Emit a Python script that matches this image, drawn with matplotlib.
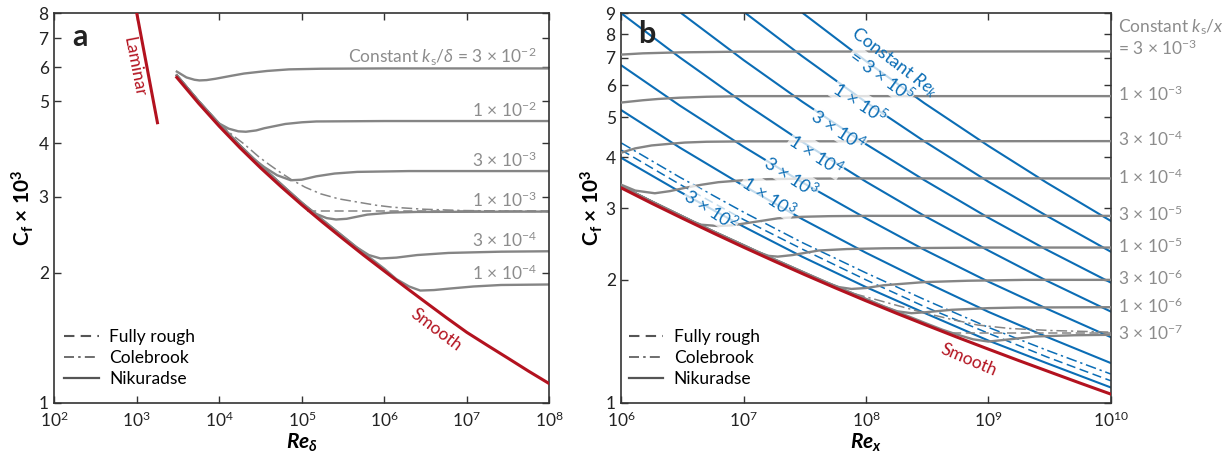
import matplotlib
matplotlib.use('Agg')
import matplotlib.pyplot as plt
import matplotlib.ticker as ticker
from matplotlib.lines import Line2D

plt.rcParams['font.family'] = ['Lato', 'DejaVu Sans']
plt.rcParams['mathtext.fontset'] = 'custom'
plt.rcParams['mathtext.rm'] = 'Lato'
plt.rcParams['mathtext.it'] = 'Lato:italic'
plt.rcParams['mathtext.bf'] = 'Lato:bold'
try:
    plt.rcParams['mathtext.bfit'] = 'Lato:bold:italic'
except KeyError:
    pass

# ---------------- panel a data (Re_delta, Cf x 1e3) ----------------
re_laminar = [1000, 1780]
cf_laminar = [8.0, 4.46]

re_smooth_a = [3055, 5623, 1e4, 1.778e4, 3.162e4, 5.623e4, 1e5, 1.778e5, 3.162e5, 5.623e5,
               1e6, 1.778e6, 3.162e6, 5.623e6, 1e7, 1.778e7, 3.162e7, 5.623e7, 1e8]
cf_smooth_a = [5.68, 4.945, 4.375, 3.902, 3.505, 3.168, 2.876, 2.623, 2.399, 2.198,
               2.020, 1.857, 1.710, 1.576, 1.456, 1.358, 1.268, 1.183, 1.107]

re_a_3e2 = [3055, 4000, 5000, 5740, 7000, 9000, 1.4e4, 2e4, 3.8e4, 7e4, 1.7e5, 1e6, 1e8]
cf_a_3e2 = [5.86, 5.68, 5.61, 5.59, 5.60, 5.64, 5.73, 5.80, 5.88, 5.93, 5.95, 5.96, 5.96]
re_a_1e2 = [3055, 5623, 8000, 1e4, 1.3e4, 1.7e4, 2.1e4, 2.8e4, 3.5e4, 6.3e4, 1e5, 1.5e5, 1e6, 1e8]
cf_a_1e2 = [5.74, 5.00, 4.62, 4.44, 4.32, 4.26, 4.25, 4.28, 4.33, 4.43, 4.47, 4.49, 4.50, 4.50]
re_a_3e3 = [3055, 5623, 1e4, 1.778e4, 2.5e4, 3.5e4, 5e4, 7.35e4, 1e5, 1.5e5, 2.5e5, 4.7e5, 2e6, 1e8]
cf_a_3e3 = [5.74, 5.00, 4.43, 3.95, 3.70, 3.52, 3.37, 3.28, 3.29, 3.35, 3.40, 3.43, 3.445, 3.445]
re_a_1e3 = [3055, 5623, 1e4, 1.778e4, 3.162e4, 5.623e4, 8e4, 1.1e5, 1.5e5, 2e5, 2.6e5, 3.5e5,
            6.2e5, 1.2e6, 2.5e6, 1e8]
cf_a_1e3 = [5.74, 5.00, 4.43, 3.95, 3.55, 3.21, 3.01, 2.86, 2.74, 2.68, 2.66, 2.67,
            2.73, 2.76, 2.77, 2.775]
re_a_3e4 = [3055, 5623, 1e4, 1.778e4, 3.162e4, 5.623e4, 1e5, 1.778e5, 3.162e5, 4.5e5, 6.5e5,
            9e5, 1.4e6, 2.5e6, 6e6, 2.6e7, 1e8]
cf_a_3e4 = [5.74, 5.00, 4.43, 3.95, 3.55, 3.21, 2.91, 2.655, 2.43, 2.30, 2.20,
            2.16, 2.17, 2.20, 2.225, 2.24, 2.245]
re_a_1e4 = [3055, 5623, 1e4, 1.778e4, 3.162e4, 5.623e4, 1e5, 1.778e5, 3.162e5, 5.623e5, 1e6,
            1.4e6, 2e6, 2.73e6, 4e6, 6.3e6, 1.2e7, 2.6e7, 1e8]
cf_a_1e4 = [5.74, 5.00, 4.43, 3.95, 3.55, 3.21, 2.91, 2.655, 2.43, 2.225, 2.045,
            1.935, 1.86, 1.82, 1.825, 1.84, 1.86, 1.875, 1.88]

re_cole_a = [1e4, 1.5e4, 2e4, 3e4, 4e4, 5.5e4, 7.7e4, 1.1e5, 1.7e5, 2.8e5, 4.7e5, 8e5,
             1.27e6, 3e6, 9.3e6, 1e8]
cf_cole_a = [4.44, 4.15, 3.98, 3.72, 3.57, 3.42, 3.28, 3.16, 3.05, 2.97, 2.92, 2.87,
             2.84, 2.81, 2.79, 2.775]
re_rough_a = [1.16e5, 1e8]
cf_rough_a = [2.78, 2.78]

labels_a = ['Constant $k_\\mathrm{s}/\\delta$ = 3 × 10$^{-2}$', '1 × 10$^{-2}$',
            '3 × 10$^{-3}$', '1 × 10$^{-3}$', '3 × 10$^{-4}$', '1 × 10$^{-4}$']
plateau_a = [5.96, 4.50, 3.445, 2.775, 2.245, 1.88]

# ---------------- panel b data (Re_x, Cf x 1e3) ----------------
re_smooth_b = [1e6, 1.778e6, 3.162e6, 5.623e6, 1e7, 1.778e7, 3.162e7, 5.623e7, 1e8,
               1.778e8, 3.162e8, 5.623e8, 1e9, 1.778e9, 3.162e9, 5.623e9, 1e10]
cf_smooth_b = [3.36, 3.079, 2.830, 2.606, 2.404, 2.223, 2.059, 1.911, 1.777,
               1.656, 1.546, 1.445, 1.353, 1.268, 1.190, 1.117, 1.050]

re_blue = [1e6, 3e6, 1e7, 3e7, 1e8, 3e8, 1e9, 3e9, 1e10]
cf_rek_3e2 = [3.98, 3.29, 2.70, 2.28, 1.92, 1.66, 1.42, 1.25, 1.09]
cf_rek_dash = [4.16, 3.43, 2.81, 2.38, 2.00, 1.72, 1.48, 1.295, 1.132]
cf_rek_dashdot = [4.33, 3.57, 2.93, 2.47, 2.08, 1.79, 1.53, 1.345, 1.176]
cf_rek_1e3 = [5.21, 4.22, 3.40, 2.82, 2.33, 1.98, 1.67, 1.45, 1.251]
cf_rek_3e3 = [6.71, 5.35, 4.24, 3.47, 2.83, 2.37, 1.98, 1.70, 1.448]
cf_rek_1e4 = [9.0, 7.02, 5.43, 4.36, 3.48, 2.87, 2.36, 1.99, 1.673]
re_rek_3e4 = [3.1e6, 1e7, 3e7, 1e8, 3e8, 1e9, 3e9, 1e10]
cf_rek_3e4 = [9.0, 6.91, 5.47, 4.30, 3.51, 2.84, 2.37, 1.97]
re_rek_1e5 = [1.04e7, 3e7, 1e8, 3e8, 1e9, 3e9, 1e10]
cf_rek_1e5 = [9.0, 7.07, 5.45, 4.37, 3.48, 2.87, 2.345]
re_rek_3e5 = [3.06e7, 1e8, 3e8, 1e9, 3e9, 1e10]
cf_rek_3e5 = [9.0, 6.87, 5.42, 4.26, 3.46, 2.79]

re_b_3e3 = [1e6, 1.5e6, 3e6, 1e7, 1e10]
cf_b_3e3 = [7.13, 7.18, 7.22, 7.25, 7.26]
re_b_1e3 = [1e6, 1.5e6, 2e6, 3e6, 5e6, 1e7, 1e10]
cf_b_1e3 = [5.44, 5.51, 5.55, 5.59, 5.62, 5.64, 5.64]
re_b_3e4 = [1e6, 1.3e6, 1.77e6, 2.5e6, 3.3e6, 5e6, 1.1e7, 1e10]
cf_b_3e4 = [4.10, 4.20, 4.27, 4.31, 4.34, 4.36, 4.37, 4.375]
re_b_1e4 = [1e6, 1.3e6, 1.88e6, 2.5e6, 3.3e6, 4.5e6, 6.2e6, 1e7, 1.58e7, 3e7, 1e8, 1e10]
cf_b_1e4 = [3.42, 3.31, 3.26, 3.30, 3.36, 3.42, 3.47, 3.51, 3.53, 3.54, 3.545, 3.545]
re_b_3e5 = [1e6, 1.778e6, 2.5e6, 3.3e6, 4.5e6, 6.2e6, 8e6, 1.02e7, 1.4e7, 1.9e7, 3e7, 5e7, 1e8, 1e10]
cf_b_3e5 = [3.39, 3.11, 2.95, 2.82, 2.73, 2.71, 2.72, 2.75, 2.79, 2.83, 2.855, 2.865, 2.87, 2.87]
re_b_1e5 = [1e6, 1.778e6, 3.162e6, 5.623e6, 1e7, 1.3e7, 1.6e7, 1.9e7, 2.5e7, 3.2e7, 4.1e7,
            7e7, 1.4e8, 1e9, 1e10]
cf_b_1e5 = [3.39, 3.11, 2.86, 2.63, 2.43, 2.34, 2.29, 2.28, 2.30, 2.33, 2.36,
            2.38, 2.39, 2.40, 2.40]
re_b_3e6 = [1e6, 1.778e6, 3.162e6, 5.623e6, 1e7, 1.778e7, 3.162e7, 4.5e7, 6e7, 7.6e7, 1e8,
            1.4e8, 1.94e8, 3e8, 6.8e8, 2e9, 1e10]
cf_b_3e6 = [3.39, 3.11, 2.86, 2.63, 2.43, 2.245, 2.08, 1.98, 1.92, 1.90, 1.91,
            1.94, 1.955, 1.975, 1.99, 2.00, 2.00]
re_b_1e6 = [1e6, 1.778e6, 3.162e6, 5.623e6, 1e7, 1.778e7, 3.162e7, 5.623e7, 1e8, 1.4e8, 1.8e8,
            2.35e8, 3e8, 5e8, 1e9, 1.74e9, 1e10]
cf_b_1e6 = [3.39, 3.11, 2.86, 2.63, 2.43, 2.245, 2.08, 1.93, 1.795, 1.72, 1.675,
            1.657, 1.665, 1.689, 1.705, 1.711, 1.714]
re_b_3e7 = [1e6, 1.778e6, 3.162e6, 5.623e6, 1e7, 1.778e7, 3.162e7, 5.623e7, 1e8, 1.778e8,
            3.162e8, 4.2e8, 5.5e8, 7.5e8, 1e9, 1.5e9, 2.4e9, 5e9, 1e10]
cf_b_3e7 = [3.39, 3.11, 2.86, 2.63, 2.43, 2.245, 2.08, 1.93, 1.795, 1.672,
            1.561, 1.51, 1.47, 1.43, 1.412, 1.43, 1.453, 1.463, 1.467]

re_cole_b = [5.56e7, 8e7, 1.2e8, 1.94e8, 3e8, 5e8, 8.2e8, 1.5e9, 3.2e9, 1e10]
cf_cole_b = [1.92, 1.85, 1.79, 1.72, 1.66, 1.60, 1.55, 1.52, 1.503, 1.489]
re_rough_b = [5e8, 1e10]
cf_rough_b = [1.48, 1.48]

labels_b = ['1 × 10$^{-3}$', '3 × 10$^{-4}$', '1 × 10$^{-4}$', '3 × 10$^{-5}$', '1 × 10$^{-5}$',
            '3 × 10$^{-6}$', '1 × 10$^{-6}$', '3 × 10$^{-7}$']
plateau_b = [5.64, 4.375, 3.545, 2.87, 2.40, 2.00, 1.714, 1.467]

rek_labels = ['1 × 10$^5$', '3 × 10$^4$', '1 × 10$^4$', '3 × 10$^3$', '1 × 10$^3$', '3 × 10$^2$']
rek_label_re = [8.9e7, 5.9e7, 3.93e7, 2.45e7, 1.61e7, 5.43e6]
rek_label_cf = [5.44, 4.68, 4.06, 3.58, 3.21, 2.98]

# ---------------- styles ----------------
RED = '#b3121f'
GRAY = '#858585'
LGRAY = '#8c8c8c'
BLUE = '#0b6db5'
DARK = '#333333'

fig = plt.figure(figsize=(12.32, 4.58), dpi=100)
ax1 = fig.add_axes([0.04407, 0.12074, 0.40179, 0.85022])
ax2 = fig.add_axes([0.50430, 0.12074, 0.39724, 0.85022])


def style_axes(ax, xlim, ylim, yt):
    ax.set_xscale('log')
    ax.set_yscale('log')
    ax.set_xlim(*xlim)
    ax.set_ylim(*ylim)
    ax.yaxis.set_major_locator(ticker.FixedLocator(yt))
    ax.yaxis.set_major_formatter(ticker.FixedFormatter([str(v) for v in yt]))
    ax.yaxis.set_minor_locator(ticker.NullLocator())
    ax.xaxis.set_major_locator(ticker.LogLocator(base=10, numticks=20))
    ax.xaxis.set_minor_locator(ticker.NullLocator())
    ax.tick_params(which='both', direction='in', top=True, right=True, length=5,
                   width=1.0, color=DARK, labelsize=12.5, labelcolor='#222222', pad=4)
    ax.tick_params(axis='x', pad=6)
    for s in ax.spines.values():
        s.set_linewidth(1.2)
        s.set_color(DARK)


ylab = 'C$_\\mathbf{f}$ × 10$^\\mathbf{3}$'

# ---------------- panel a ----------------
style_axes(ax1, (1e2, 1e8), (1, 8), [1, 2, 3, 4, 5, 6, 7, 8])
for re, cf in [(re_a_3e2, cf_a_3e2), (re_a_1e2, cf_a_1e2), (re_a_3e3, cf_a_3e3),
               (re_a_1e3, cf_a_1e3), (re_a_3e4, cf_a_3e4), (re_a_1e4, cf_a_1e4)]:
    ax1.plot(re, cf, color=GRAY, lw=1.7, zorder=2)
ax1.plot(re_cole_a, cf_cole_a, color=GRAY, lw=1.1, ls=(0, (7, 2.5, 1.5, 2.5)), zorder=2)
ax1.plot(re_rough_a, cf_rough_a, color=GRAY, lw=1.1, ls=(0, (6, 3)), zorder=2)
ax1.plot(re_smooth_a, cf_smooth_a, color=RED, lw=2.2, zorder=3)
ax1.plot(re_laminar, cf_laminar, color=RED, lw=2.2, zorder=3)

for txt, pv in zip(labels_a, plateau_a):
    ax1.annotate(txt, xy=(0.975, pv), xycoords=('axes fraction', 'data'),
                 xytext=(0, 8), textcoords='offset points', ha='right', va='center',
                 fontsize=12.5, color=LGRAY)
ax1.text(925, 6.0, 'Laminar', color=RED, fontsize=12.5, rotation=-79,
         ha='center', va='center', rotation_mode='anchor')
ax1.text(4.24e6, 1.476, 'Smooth', color=RED, fontsize=12.5, rotation=-37,
         ha='center', va='center', rotation_mode='anchor')

ax1.set_xlabel(r'$\mathbfit{Re}_{\mathbfit{\delta}}$', fontsize=15)
ax1.xaxis.set_label_coords(0.5, -0.075)
ax1.set_ylabel(ylab, fontsize=15, fontweight='bold')
ax1.yaxis.set_label_coords(-0.037, 0.5)

# ---------------- panel b ----------------
style_axes(ax2, (1e6, 1e10), (1, 9), [1, 2, 3, 4, 5, 6, 7, 8, 9])
for re, cf in [(re_blue, cf_rek_3e2), (re_blue, cf_rek_1e3), (re_blue, cf_rek_3e3),
               (re_blue, cf_rek_1e4), (re_rek_3e4, cf_rek_3e4), (re_rek_1e5, cf_rek_1e5),
               (re_rek_3e5, cf_rek_3e5)]:
    ax2.plot(re, cf, color=BLUE, lw=1.5, zorder=2)
ax2.plot(re_blue, cf_rek_dash, color=BLUE, lw=1.1, ls=(0, (6, 3)), zorder=2)
ax2.plot(re_blue, cf_rek_dashdot, color=BLUE, lw=1.1, ls=(0, (7, 2.5, 1.5, 2.5)), zorder=2)

for re, cf in [(re_b_3e3, cf_b_3e3), (re_b_1e3, cf_b_1e3), (re_b_3e4, cf_b_3e4),
               (re_b_1e4, cf_b_1e4), (re_b_3e5, cf_b_3e5), (re_b_1e5, cf_b_1e5),
               (re_b_3e6, cf_b_3e6), (re_b_1e6, cf_b_1e6), (re_b_3e7, cf_b_3e7)]:
    ax2.plot(re, cf, color=GRAY, lw=1.7, zorder=3)
ax2.plot(re_cole_b, cf_cole_b, color=GRAY, lw=1.1, ls=(0, (7, 2.5, 1.5, 2.5)), zorder=3)
ax2.plot(re_rough_b, cf_rough_b, color=GRAY, lw=1.1, ls=(0, (6, 3)), zorder=3)
ax2.plot(re_smooth_b, cf_smooth_b, color=RED, lw=2.2, zorder=4)

box = dict(facecolor='white', edgecolor='none', alpha=0.75, pad=0.5)
ax2.text(1.69e8, 6.84, 'Constant $Re_k$', color=BLUE, fontsize=13, rotation=-37,
         ha='center', va='center', rotation_mode='anchor', zorder=5)
ax2.text(1.33e8, 6.32, '= 3 × 10$^5$', color=BLUE, fontsize=13, rotation=-36,
         ha='center', va='center', rotation_mode='anchor', bbox=box, zorder=5)
for txt, re, cf in zip(rek_labels, rek_label_re, rek_label_cf):
    ax2.text(re, cf, txt, color=BLUE, fontsize=13, rotation=-33,
             ha='center', va='center', rotation_mode='anchor', bbox=box, zorder=5)
ax2.text(6.9e8, 1.274, 'Smooth', color=RED, fontsize=12.5, rotation=-23,
         ha='center', va='center', rotation_mode='anchor', zorder=5)

ax2.annotate('Constant $k_\\mathrm{s}/x$\n= 3 × 10$^{-3}$', xy=(1.015, 7.26),
             xycoords=('axes fraction', 'data'), xytext=(0, 10), textcoords='offset points',
             ha='left', va='center', fontsize=12.5, color=LGRAY, linespacing=1.1,
             annotation_clip=False)
for txt, pv in zip(labels_b, plateau_b):
    ax2.annotate(txt, xy=(1.015, pv), xycoords=('axes fraction', 'data'),
                 xytext=(0, 1), textcoords='offset points', ha='left', va='center',
                 fontsize=12.5, color=LGRAY, annotation_clip=False)

ax2.set_xlabel(r'$\mathbfit{Re}_{\mathbfit{x}}$', fontsize=15)
ax2.xaxis.set_label_coords(0.5, -0.075)
ax2.set_ylabel(ylab, fontsize=15, fontweight='bold')
ax2.yaxis.set_label_coords(-0.034, 0.5)

# ---------------- legends ----------------
handles = [Line2D([], [], color='#555555', lw=1.5, ls=(0, (5, 3))),
           Line2D([], [], color='#555555', lw=1.2, ls=(0, (6, 2.5, 1.5, 2.5))),
           Line2D([], [], color='#555555', lw=1.6)]
names = ['Fully rough', 'Colebrook', 'Nikuradse']
for ax, x0 in [(ax1, 0.02), (ax2, 0.015)]:
    ax.legend(handles, names, loc='lower left', bbox_to_anchor=(x0, 0.04), frameon=False,
              fontsize=12.5, handlelength=2.0, handletextpad=0.6, labelspacing=0.3,
              borderaxespad=0, borderpad=0)

fig.text(80 / 1232, 1 - 36.5 / 458, 'a', fontsize=22, fontweight='bold',
         ha='center', va='center', color='#222222')
fig.text(647 / 1232, 1 - 34 / 458, 'b', fontsize=22, fontweight='bold',
         ha='center', va='center', color='#222222')

fig.savefig('out.png', dpi=100)
